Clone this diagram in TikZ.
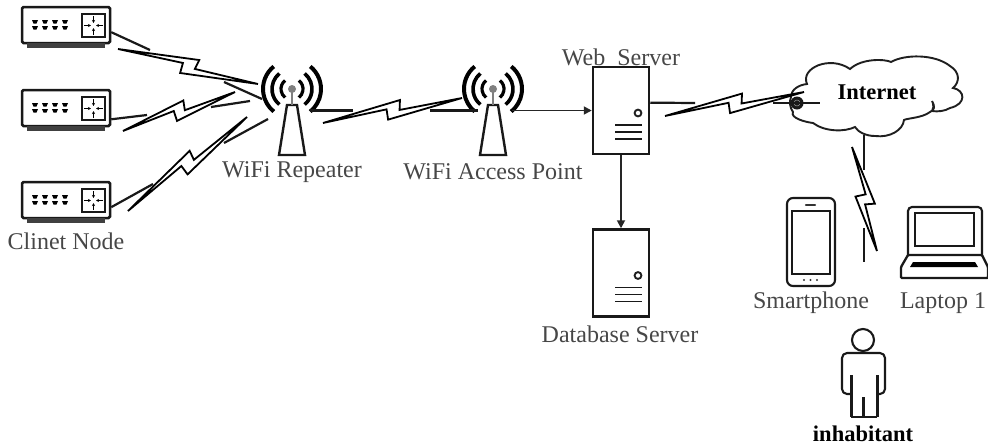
\documentclass[tikz,border=0pt]{standalone}
\usepackage{fontspec}
\setmainfont{Liberation Serif}
\usetikzlibrary{calc,arrows.meta}
\tikzset{
  heavy/.style={line width=2.4pt,draw=black!90},
  link/.style={line width=2.2pt,draw=black!90},
  boltline/.style={line width=1.8pt,draw=black,line join=miter,miter limit=10},
  flow/.style={line width=1.8pt,draw=black!85,-{Triangle[length=8pt,width=8pt]}},
  lab/.style={font=\fontsize{24}{26}\selectfont,text=black!72,inner sep=0pt},
  blab/.style={font=\fontsize{22.5}{24}\selectfont\bfseries,text=black,inner sep=0pt},
  devicebox/.style={draw=black!90,line width=2.5pt,inner sep=0pt,fill=white},
}
\newcommand{\boltlink}[6]{% from, stub end, tip1, tip2, stub start, to
  \draw[link] (#1) -- (#2);
  \draw[boltline] (#3) -- ($(#3)!.565!(#4)!9pt!90:(#4)$) -- ($(#3)!.55!(#4)!-0.7pt!90:(#4)$)
    -- (#4) -- ($(#3)!.458!(#4)!-8.2pt!90:(#4)$) -- ($(#3)!.46!(#4)!2.2pt!90:(#4)$) -- cycle;
  \draw[link] (#5) -- (#6);
}
\newcommand{\router}[2]{% name, y centre
  \node[devicebox,rounded corners=1.5pt,minimum width=88pt,minimum height=36pt] (#1) at (66,#2) {};
  \begin{scope}[shift={(66,#2)}]
    \fill[black!75] (-39,18) rectangle (39,23);
    \foreach \xx in {-31,-21,-11,-1}{
      \fill[black] (\xx-3,-5) -- (\xx+3,-5) -- (\xx+1.5,-1.5) -- (\xx-1.5,-1.5) -- cycle;
      \fill[black] (\xx-3,1) -- (\xx+3,1) -- (\xx+1.5,4.5) -- (\xx-1.5,4.5) -- cycle;
    }
    \draw[heavy] (16,-11) rectangle (39,12);
    \draw[black,line width=.8pt,-{Stealth[length=3pt,width=3pt]}] (27.5,-9) -- (27.5,-2);
    \draw[black,line width=.8pt,-{Stealth[length=3pt,width=3pt]}] (27.5,10) -- (27.5,3);
    \draw[black,line width=.8pt,-{Stealth[length=3pt,width=3pt]}] (18,.5) -- (25,.5);
    \draw[black,line width=.8pt,-{Stealth[length=3pt,width=3pt]}] (37,.5) -- (30,.5);
  \end{scope}
}
\newcommand{\antenna}[2]{% name, x centre
  \coordinate (#1) at (#2,89);
  \begin{scope}[shift={(#2,89)}]
    \draw[heavy] (-13,66) -- (-5,16) -- (5,16) -- (13,66) -- cycle;
    \draw[line width=1.4pt,black!50] (0,0) -- (0,16);
    \fill[black!50] (0,0) circle (4);
    \foreach \rr/\ww in {11/3.2,20/3.6,29/4}{
      \draw[black,line width=\ww pt] (-51:\rr) arc[start angle=-51,end angle=51,radius=\rr];
      \draw[black,line width=\ww pt] (-129:\rr) arc[start angle=-129,end angle=-231,radius=\rr];
    }
  \end{scope}
}
\newcommand{\server}[2]{% name, y top
  \node[devicebox,minimum width=56pt,minimum height=87pt] (#1) at (621,#2+43.5) {};
  \begin{scope}[shift={(621,#2)}]
    \draw[black!88,line width=1.9pt] (17,46) circle (3.4);
    \draw[black!90,line width=1.9pt] (-6,58) -- (21,58) (-6,65) -- (21,65) (-6,72) -- (21,72);
  \end{scope}
}
\begin{document}
\begin{tikzpicture}[x=1pt,y=-1pt]
\useasboundingbox (0,0) rectangle (988,445);

% routers
\router{rone}{25}
\router{rtwo}{108}
\router{rthree}{200}
\node[lab] (clinet) at (66,241) {Clinet Node};

% antennas
\antenna{rep}{292}
\antenna{ap}{493}
\node[lab] (replab) at (292,172) {WiFi Repeater};
\node[lab] (aplab) at (493,172) {WiFi Access Point};
\coordinate (repout) at (310,110.5);
\coordinate (apin) at (478,110.5);
\coordinate (apout) at (512,110.5);

% servers
\server{web}{67}
\server{db}{229.5}
\node[lab] (weblab) at (621,57) {Web\ \ Server};
\node[lab] (dblab) at (620,334) {Database Server};

% cloud
\draw[black!88,line width=1.9pt,fill=white]
  (791,97) .. controls (791,90) and (798,85) .. (807,84)
  .. controls (800,68) and (830,55) .. (850,69)
  .. controls (862,58) and (885,59) .. (891,62)
  .. controls (905,54) and (935,54) .. (950,66)
  .. controls (960,72) and (960,82) .. (953,88)
  .. controls (965,90) and (967,104) .. (950,108)
  .. controls (945,111) and (938,112) .. (932,111)
  .. controls (935,106) and (932,101) .. (932,101)
  .. controls (935,106) and (935,110) .. (930,112)
  .. controls (922,118) and (908,118) .. (904,120)
  .. controls (903,130) and (890,138) .. (875,136)
  .. controls (866,136) and (858,132) .. (855,127)
  .. controls (845,132) and (825,132) .. (813,123)
  .. controls (805,122) and (790,118) .. (793,112)
  .. controls (790,108) and (789,102) .. (791,97) -- cycle;
\coordinate (cloudin) at (820,103);
\coordinate (cloudout) at (864,135);
\node[blab] (inet) at (877,92) {Internet};
\fill[black!90] (797,103) circle (6.5);
\draw[black!40,line width=.5pt] (797,103) circle (3);

% phone
\node[draw=black!90,line width=2.1pt,rounded corners=6pt,minimum width=48pt,minimum height=88pt,inner sep=0pt] (phone) at (811,242) {};
\draw[black!90,line width=2pt] (792,211) rectangle (830,274);
\draw[black!80,line width=2.2pt,line cap=round] (806,205) -- (815,205);
\foreach \xx in {804,810.5,817}{\fill[black!80] (\xx,280) circle (1.2);}
\node[lab] (phonelab) at (811,303) {Smartphone};

% laptop
\draw[black!90,line width=2.1pt,rounded corners=4pt] (908,256) |- (982,207) -- (982,256);
\node[draw=black!90,line width=2.1pt,minimum width=59pt,minimum height=33pt,inner sep=0pt] (laptop) at (944.5,229.5) {};
\draw[black!90,line width=2.3pt,fill=white,rounded corners=1pt] (908,255) -- (982,255) -- (988,267) -- (988,278) -- (901,278) -- (901,267) -- cycle;
\fill[black] (910,267) -- (913,262) -- (975,262) -- (978,267) -- cycle;
\node[lab] (laptoplab) at (943,303) {Laptop 1};

% person
\node[draw=black!90,line width=2.1pt,circle,minimum size=22pt,inner sep=0pt] (head) at (863,340) {};
\draw[black!90,line width=2.1pt,line join=round,rounded corners=5pt]
  (850,394) -- (842,394) -- (842,353) -- (885,353) -- (885,394) -- (877,394);
\draw[black!90,line width=2.1pt] (851,417) -- (877,417);
\draw[black!90,line width=3pt] (851,375) -- (851,417) (877,375) -- (877,417) (863,397) -- (863,417);
\node[blab] (person) at (863,434) {inhabitant};

% link geometry
\coordinate (sa1) at (150,50); \coordinate (ta1) at (118,49); \coordinate (tb1) at (258,84); \coordinate (sb1) at (224,82); \coordinate (ra1) at (262,99);
\coordinate (sa2) at (147,115); \coordinate (ta2) at (123,131); \coordinate (tb2) at (235,92); \coordinate (sb2) at (211,107); \coordinate (ra2) at (250,101);
\coordinate (sa3) at (153,184); \coordinate (ta3) at (128,211); \coordinate (tb3) at (247,117); \coordinate (sb3) at (224,143); \coordinate (ra3) at (268,119);
\coordinate (sa4) at (353,110.5); \coordinate (ta4) at (323,123); \coordinate (tb4) at (462,98); \coordinate (sb4) at (430,110.5);
\coordinate (sa5) at (695,103); \coordinate (ta5) at (665,116); \coordinate (tb5) at (804,92); \coordinate (sb5) at (773,103);
\coordinate (sa6) at (864,170); \coordinate (ta6) at (852,147); \coordinate (tb6) at (877,251); \coordinate (sb6) at (864,228); \coordinate (devin) at (864,262);

\boltlink{rone.-9}{sa1}{ta1}{tb1}{sb1}{ra1}
\boltlink{rtwo.-14}{sa2}{ta2}{tb2}{sb2}{ra2}
\boltlink{rthree.-9}{sa3}{ta3}{tb3}{sb3}{ra3}
\boltlink{repout}{sa4}{ta4}{tb4}{sb4}{apin}
\boltlink{web.15}{sa5}{ta5}{tb5}{sb5}{cloudin}
\boltlink{cloudout}{sa6}{ta6}{tb6}{sb6}{devin}

\draw[flow] (apout) -- (web.west |- apout);
\draw[flow] (web.south) -- (db.north);
\end{tikzpicture}
\end{document}
